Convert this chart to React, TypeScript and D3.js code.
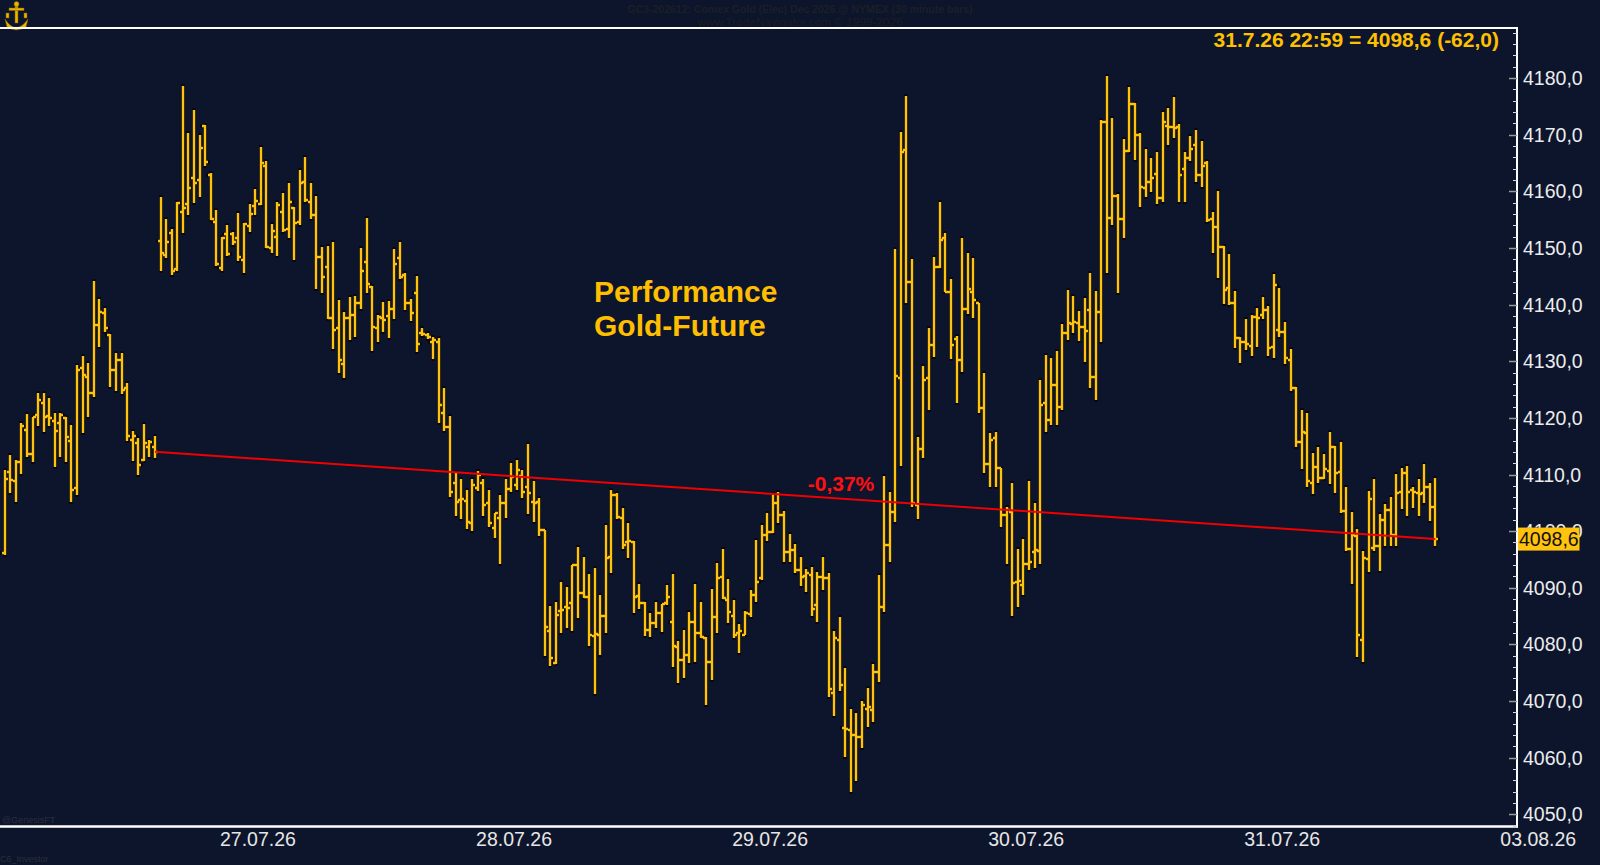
import React from "react";
import * as d3 from "d3";

// ---- data (30-minute OHLC bars, Comex Gold Dec 2026) ----
const opens = [4096.2,4110.4,4108.9,4112.2,4117.9,4113.6,4120.5,4122.6,4120.4,4119.5,4119.1,4120.0,4115.9,4107.6,4128.8,4127.2,4124.4,4136.4,4138.5,4134.6,4128.5,4130.2,4125.3,4116.1,4115.6,4112.6,4114.9,4114.9,
4151.2,4148.8,4152.7,4146.3,4156.4,4157.8,4162.4,4162.0,4171.5,4162.9,4154.6,4146.5,4152.5,4152.5,4151.8,4147.9,4153.9,4157.4,4157.8,4164.5,4150.0,4151.9,4156.4,4153.4,4157.1,4154.6,4161.7,4158.1,4155.8,4148.4,4146.6,4137.6,4135.9,4129.5,4137.6,4138.2,4140.3,4147.5,4143.1,4135.9,4137.6,4138.0,4139.2,4148.2,4145.2,4140.3,4142.1,4135.0,4134.6,4133.4,4133.4,
4120.9,4118.4,4108.5,4105.5,4105.3,4101.4,4107.6,4108.5,4105.0,4100.6,4102.3,4105.0,4107.4,4108.2,4109.7,4107.8,4105.1,4105.1,4100.2,4082.4,4076.7,4085.9,4086.6,4087.3,4094.0,4089.1,4088.4,4081.5,4081.7,4085.0,4095.4,4106.4,4102.3,4098.1,4098.1,4088.5,4087.3,4082.5,4083.8,4085.5,4087.3,4084.0,4079.5,4077.2,4078.1,4084.0,4082.0,4081.1,4076.9,4084.8,4091.9,4087.8,4085.0,4082.0,4081.7,
4085.4,4088.7,4091.7,4099.3,4099.9,4105.0,4102.9,4096.3,4096.7,4093.1,4092.1,4092.3,4087.0,4091.9,4091.7,4071.4,4080.8,4065.2,4064.9,4064.0,4063.6,4068.6,4068.4,4075.1,4086.6,4097.6,4103.4,4127.0,4167.3,4144.0,4104.6,4114.5,4127.0,4132.9,4146.6,4151.8,4142.2,4133.9,4130.2,4139.2,4142.2,4140.3,4121.7,4111.9,4116.5,4111.2,4102.9,4103.4,4091.0,4090.5,4094.2,4096.3,4096.5,4122.6,4119.6,4125.8,4121.9,4135.0,
4136.6,4136.8,4136.1,4139.0,4127.2,4138.7,4172.3,4155.3,4159.2,4155.1,4167.1,4175.4,4170.0,4160.6,4161.7,4163.1,4158.8,4171.5,4171.4,4171.4,4164.0,4165.9,4168.2,4162.9,4165.0,4155.1,4153.7,4150.2,4142.9,4140.3,4134.1,4133.4,4132.7,4137.8,4138.2,4139.1,4132.5,4135.5,4135.2,4130.2,4125.3,4115.7,4117.3,4108.5,4111.3,4109.4,4110.6,4114.9,4110.4,4103.6,4096.8,4099.1,4080.8,4095.1,4097.0,4097.4,4102.0,4103.7,4099.3,4106.9,4110.3,4107.3,4106.7,4106.7,4107.8,4104.3];

const highs = [4110.8,4113.4,4112.6,4119.1,4120.7,4120.2,4124.4,4124.4,4123.5,4120.9,4120.9,4120.2,4118.7,4129.3,4130.9,4129.7,4144.2,4141.0,4139.4,4134.8,4131.5,4131.5,4126.2,4117.7,4116.5,4118.9,4116.1,4116.8,
4159.0,4155.1,4153.4,4158.1,4178.6,4170.3,4174.4,4170.0,4171.7,4163.2,4156.7,4151.9,4154.1,4152.8,4156.2,4154.4,4157.8,4160.4,4167.8,4165.4,4154.2,4158.1,4159.7,4161.5,4157.2,4163.8,4166.1,4161.5,4159.2,4150.2,4150.4,4151.1,4140.8,4138.7,4141.4,4141.5,4150.0,4155.3,4143.3,4138.2,4140.5,4140.6,4149.8,4151.1,4145.6,4141.0,4145.1,4135.9,4135.0,4134.3,4134.1,
4125.3,4120.3,4110.4,4109.2,4107.3,4109.2,4110.6,4109.2,4107.3,4103.2,4106.4,4109.2,4112.0,4112.6,4110.8,4115.4,4108.9,4105.9,4100.2,4086.8,4087.5,4091.0,4090.1,4094.0,4097.2,4095.4,4092.4,4093.5,4088.7,4101.1,4107.3,4106.7,4104.1,4101.4,4098.3,4090.7,4087.5,4085.5,4087.5,4087.1,4090.5,4092.4,4080.6,4082.5,4085.7,4090.7,4087.5,4081.3,4089.8,4094.4,4096.8,4091.5,4087.8,4083.6,4085.9,
4089.6,4098.4,4101.1,4103.2,4106.6,4106.9,4103.6,4099.5,4097.7,4095.4,4093.3,4093.7,4092.8,4095.4,4092.6,4082.4,4084.8,4075.8,4068.6,4067.9,4070.0,4072.3,4076.5,4092.3,4109.7,4106.9,4149.8,4170.5,4176.8,4148.1,4116.6,4129.2,4135.9,4148.4,4158.1,4152.7,4144.5,4134.5,4151.8,4149.1,4148.2,4140.3,4127.9,4117.3,4117.5,4111.2,4104.3,4108.5,4096.8,4098.6,4108.9,4105.0,4126.7,4131.1,4130.6,4131.8,4136.6,4142.6,
4141.5,4138.9,4141.2,4145.6,4142.4,4172.6,4180.4,4173.0,4159.5,4169.3,4178.4,4175.6,4170.3,4167.5,4165.9,4167.0,4174.0,4174.7,4176.7,4171.9,4167.0,4169.8,4170.8,4168.9,4165.4,4156.4,4160.1,4150.4,4148.9,4142.4,4134.3,4137.5,4138.2,4139.4,4141.4,4139.8,4145.4,4142.9,4136.9,4132.2,4125.5,4121.4,4120.9,4113.8,4114.9,4113.6,4117.5,4115.0,4115.7,4107.8,4103.4,4100.4,4096.5,4107.1,4109.2,4103.0,4104.8,4106.0,4110.1,4111.2,4111.5,4107.8,4109.2,4111.9,4108.5,4109.4];

const lows = [4095.8,4106.8,4105.1,4110.1,4113.1,4112.2,4118.6,4117.5,4118.6,4111.3,4113.1,4112.2,4105.1,4106.4,4117.3,4120.2,4123.7,4132.5,4135.2,4125.5,4124.7,4124.2,4115.9,4112.4,4109.9,4112.4,4113.1,4112.9,
4146.0,4148.2,4145.2,4145.9,4152.7,4155.8,4157.9,4159.0,4164.5,4155.0,4146.8,4145.9,4148.6,4150.5,4147.7,4145.6,4152.8,4155.8,4157.6,4150.0,4149.1,4148.6,4152.8,4151.8,4147.9,4154.1,4158.1,4155.1,4142.8,4142.1,4137.5,4132.2,4127.9,4127.0,4133.8,4134.3,4139.2,4142.1,4131.8,4133.4,4135.2,4134.1,4137.5,4144.5,4139.1,4137.1,4131.6,4134.5,4133.9,4130.4,4119.1,
4117.7,4106.0,4102.7,4102.1,4100.4,4100.0,4107.1,4102.7,4100.7,4098.8,4094.2,4102.3,4106.9,4107.3,4105.9,4103.0,4101.6,4099.1,4078.0,4076.2,4076.5,4082.0,4082.9,4082.4,4084.7,4088.2,4079.7,4071.2,4078.1,4082.0,4092.6,4102.1,4096.8,4095.3,4085.5,4086.3,4081.5,4081.3,4082.9,4082.2,4087.0,4076.0,4073.2,4074.1,4076.7,4076.9,4081.1,4069.3,4073.7,4082.0,4088.0,4083.8,4081.1,4078.5,4081.7,
4084.8,4087.5,4091.4,4098.3,4099.7,4101.4,4094.6,4094.6,4092.6,4090.3,4089.3,4085.0,4084.0,4089.6,4070.7,4067.4,4071.8,4060.1,4053.9,4055.9,4061.7,4065.4,4066.3,4073.4,4085.7,4094.6,4101.6,4111.5,4140.3,4104.3,4102.1,4112.9,4121.4,4130.8,4146.5,4142.2,4130.4,4122.6,4128.1,4138.3,4137.6,4120.9,4110.3,4107.8,4107.8,4100.7,4094.2,4085.0,4086.6,4088.7,4093.1,4093.5,4094.2,4117.5,4118.7,4118.7,4121.4,4133.8,
4135.0,4133.6,4129.9,4125.3,4123.2,4133.4,4145.6,4154.1,4142.1,4151.8,4167.0,4165.5,4157.2,4159.0,4159.9,4157.8,4158.1,4168.2,4169.4,4158.1,4158.1,4165.4,4161.7,4160.8,4154.6,4149.1,4144.7,4140.1,4139.9,4132.3,4129.7,4132.0,4130.9,4132.5,4137.5,4130.9,4130.6,4134.3,4129.5,4124.7,4114.9,4111.0,4107.8,4106.6,4108.5,4109.2,4108.3,4106.7,4103.2,4096.5,4090.7,4077.8,4076.9,4092.8,4096.5,4093.0,4097.4,4097.4,4097.4,4103.9,4102.7,4104.1,4102.7,4105.0,4101.8,4097.4];

const closes = [4109.2,4109.0,4112.2,4118.6,4113.6,4120.2,4123.2,4120.2,4120.0,4117.7,4120.5,4116.6,4107.3,4128.5,4127.6,4124.4,4136.4,4138.7,4135.9,4128.5,4130.2,4124.9,4116.8,4116.8,4111.7,4115.6,4115.7,4114.0,
4149.2,4151.1,4145.9,4157.9,4157.1,4160.6,4161.5,4167.7,4165.2,4155.1,4147.2,4151.8,4148.9,4151.1,4148.4,4154.2,4156.0,4158.3,4165.0,4150.2,4153.0,4157.6,4153.2,4158.1,4154.4,4161.5,4158.5,4155.8,4148.4,4144.9,4137.6,4135.5,4130.2,4137.6,4138.2,4140.3,4145.9,4143.6,4136.1,4137.8,4137.3,4139.2,4147.2,4144.9,4140.3,4138.5,4133.0,4134.8,4134.3,4133.8,4122.3,
4118.4,4106.9,4105.1,4105.7,4101.6,4108.1,4109.9,4104.6,4101.4,4103.2,4105.0,4107.4,4109.6,4110.8,4106.9,4106.7,4105.0,4100.2,4083.1,4077.6,4085.2,4086.1,4086.4,4094.0,4089.1,4088.4,4081.7,4081.8,4085.0,4095.3,4106.4,4102.5,4097.6,4098.3,4088.4,4087.3,4082.5,4083.8,4085.5,4087.1,4088.4,4079.7,4077.2,4078.1,4084.0,4082.0,4081.3,4076.9,4084.8,4091.7,4088.2,4085.7,4081.7,4082.3,4085.5,
4088.7,4091.0,4099.3,4099.9,4105.0,4102.9,4096.3,4096.7,4093.1,4091.9,4092.6,4086.3,4091.9,4091.7,4072.1,4081.1,4072.8,4065.1,4064.0,4063.6,4069.3,4068.9,4075.1,4086.6,4097.6,4103.4,4127.4,4167.0,4144.0,4105.0,4114.5,4126.7,4132.9,4146.6,4151.4,4142.2,4132.9,4130.2,4139.2,4142.8,4140.8,4121.7,4111.9,4116.1,4111.2,4102.9,4103.7,4090.8,4091.2,4094.2,4094.5,4096.7,4122.3,4119.6,4125.8,4121.9,4135.0,4136.8,
4137.0,4136.1,4135.3,4127.2,4138.7,4172.3,4155.3,4159.2,4155.1,4167.1,4175.4,4170.0,4160.8,4161.7,4162.4,4158.8,4172.3,4171.4,4171.2,4162.9,4165.9,4167.5,4162.9,4164.5,4155.0,4153.7,4150.2,4142.6,4140.3,4134.1,4133.4,4133.1,4137.8,4137.6,4139.1,4132.3,4143.5,4135.2,4130.6,4125.3,4115.7,4117.5,4108.9,4111.3,4109.4,4111.0,4114.9,4110.3,4103.6,4096.8,4099.3,4081.7,4095.3,4105.7,4097.4,4102.0,4103.7,4099.3,4106.7,4110.3,4106.9,4106.9,4106.5,4107.8,4104.3,4098.6];

const dayLabels = ["27.07.26", "28.07.26", "29.07.26", "30.07.26", "31.07.26", "03.08.26"];
const barsPerSession = 46;
const firstLabelIndex = 45.5;
const majorTicks = d3.range(4050, 4181, 10);
const minorTicks = d3.range(4048, 4190, 2);
const perfStartIndex = 27;
const perfLabel = "-0,37%";
const lastQuote = "31.7.26 22:59 = 4098,6 (-62,0)";
const titleLine1 = "GC3-202612:  Comex Gold (Elec) Dec 2026 @ NYMEX  (30 minute bars)";
const titleLine2 = "www.TradeNavigator.com © 1999-2026";

const BG = "#0d152c";
const GOLD = "#ffc20e";
const FONT = "'Liberation Sans', Arial, sans-serif";
const fmt = (v: number) => v.toFixed(1).replace(".", ",");

export default function App() {
  const W = 1600, H = 865;
  const axisX = 1517;
  const plotTop = 28, plotBottom = 826.5;
  const n = closes.length;
  const x = d3.scaleLinear().domain([0, n - 1]).range([4.7, 1435.3]);
  const y = d3.scaleLinear().domain([4050, 4180]).range([814.3, 78.1]);

  const barPath = (i: number) => {
    const xi = Math.round(x(i));
    const yh = Math.round(y(highs[i]));
    const yl = Math.round(y(lows[i]));
    const yo = Math.round(y(opens[i]));
    const yc = Math.round(y(closes[i]));
    return `M${xi},${yh}V${yl}M${xi - 3},${yo}H${xi}M${xi},${yc}H${xi + 3}`;
  };
  const allBars = d3.range(n).map(barPath).join("");

  const last = closes[n - 1];
  const yLast = y(last);
  const redLine = d3.line<number>().x((i) => x(i)).y((i) => y(closes[i]))([perfStartIndex, n - 1]) || "";

  return (
    <div style={{ width: W, height: H, background: BG }}>
      <style>{`html,body{margin:0;padding:0;background:${BG};overflow:hidden}`}</style>
      <svg width={W} height={H} style={{ display: "block", fontFamily: FONT }}>
        <rect x={0} y={0} width={W} height={H} fill={BG} />

        {/* logo */}
        <g fill="#e8b400" stroke="#7a5a00" strokeWidth={0.5}>
          <rect x={15} y={3} width={3} height={20} />
          <rect x={9} y={8} width={15} height={2.5} />
          <rect x={6} y={13} width={3} height={5} />
          <rect x={24} y={13} width={3} height={5} />
          <path d="M5,19 Q16,36 28,19 L26,27 Q16,33 7,27 Z" />
          <circle cx={16.5} cy={4} r={2.5} />
        </g>

        {/* title */}
        <text x={800} y={13} textAnchor="middle" fontSize={10.5} fontWeight="bold" fill="#1c1f26" textLength={345} lengthAdjust="spacingAndGlyphs">{titleLine1}</text>
        <text x={800} y={25.5} textAnchor="middle" fontSize={11} fill="#1c1f26" textLength={205} lengthAdjust="spacingAndGlyphs">{titleLine2}</text>

        {/* frame */}
        <line x1={0} x2={axisX + 1} y1={plotTop} y2={plotTop} stroke="#ffffff" strokeWidth={2} />
        <line x1={0} x2={axisX + 1} y1={plotBottom} y2={plotBottom} stroke="#ffffff" strokeWidth={2.5} />
        <line x1={axisX} x2={axisX} y1={plotTop - 1} y2={plotBottom + 1} stroke="#ffffff" strokeWidth={2} />

        {/* y axis ticks */}
        {minorTicks.filter((v) => v % 10 !== 0).map((v) => (
          <line key={"m" + v} x1={axisX - 4} x2={axisX} y1={Math.round(y(v)) + 0.5} y2={Math.round(y(v)) + 0.5} stroke="#d8d8d8" strokeWidth={1} />
        ))}
        {majorTicks.map((v) => (
          <g key={"t" + v}>
            <line x1={axisX - 8} x2={axisX} y1={Math.round(y(v)) + 0.5} y2={Math.round(y(v)) + 0.5} stroke="#9a9a9a" strokeWidth={1.5} />
            <text x={1523} y={y(v) + 7} fontSize={19.5} fill="#ececec">{fmt(v)}</text>
          </g>
        ))}

        {/* x axis labels */}
        {dayLabels.map((d, k) => (
          <text key={d} x={x(firstLabelIndex + barsPerSession * k)} y={846} fontSize={19.5} textAnchor="middle" fill="#e6e6e6">{d}</text>
        ))}

        {/* bars */}
        <path d={allBars} stroke="#05070d" strokeWidth={3.6} fill="none" strokeLinecap="square" />
        <path d={allBars} stroke={GOLD} strokeWidth={2.4} fill="none" strokeLinecap="butt" />

        {/* performance line */}
        <path d={redLine} stroke="#f00000" strokeWidth={2} fill="none" />
        <text x={841} y={491} textAnchor="middle" fontSize={21} fontWeight="bold" fill="#ff1010">{perfLabel}</text>

        {/* annotation */}
        <text x={594} y={302} fontSize={30} fontWeight="bold" fill="#ffbe00">Performance</text>
        <text x={594} y={336} fontSize={30} fontWeight="bold" fill="#ffbe00">Gold-Future</text>

        {/* last quote */}
        <text x={1499} y={47} textAnchor="end" fontSize={21} fontWeight="bold" fill="#ffc000">{lastQuote}</text>

        {/* last price box */}
        <rect x={1518} y={yLast - 11.5} width={61.5} height={23} fill={GOLD} />
        <text x={1519} y={yLast + 7} fontSize={19.5} fill="#111111">{fmt(last)}</text>

        {/* credits */}
        <text x={2} y={823} fontSize={9} fill="#2a2f3a">@GenesisFT</text>
        <text x={0} y={862} fontSize={9} fill="#2a2f3a">C6_Investor</text>
      </svg>
    </div>
  );
}
